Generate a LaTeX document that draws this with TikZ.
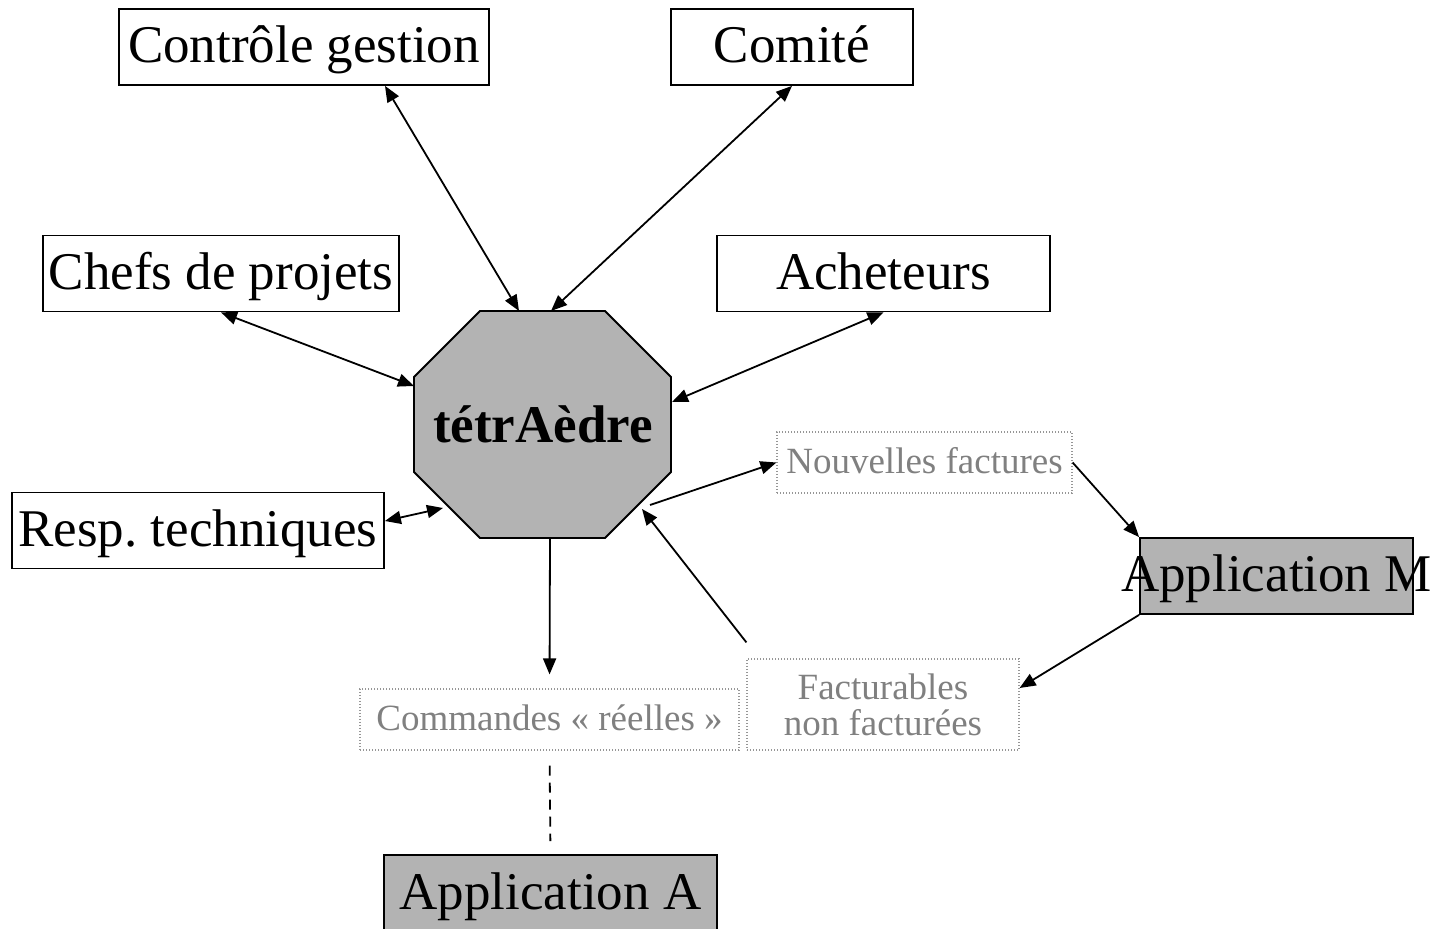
\documentclass[tikz,border=0pt]{standalone}
\usepackage{fontspec}
\setmainfont{Liberation Serif}
\usetikzlibrary{arrows.meta}

\definecolor{octgray}{RGB}{179,179,179}
\definecolor{textgray}{RGB}{128,128,128}
\definecolor{dotgray}{RGB}{150,150,150}

\begin{document}
\frenchspacing
\begin{tikzpicture}[x=0.5pt, y=-0.5pt]
    \tikzstyle{block} = [rectangle, draw, line width=0.9pt, inner sep=0pt,
    minimum height=38pt, text height=20pt, text depth=4pt, font=\fontsize{26.5}{30}\selectfont]
    \tikzstyle{app} = [block, fill=octgray]
    \tikzstyle{flow} = [rectangle, draw=dotgray, line width=0.6pt, dash pattern=on 0.6pt off 0.9pt,
    text=textgray, inner sep=0pt, minimum height=30.5pt, align=center,
    font=\fontsize{18.5}{18}\selectfont]
    \tikzstyle{oneline} = [text height=13.5pt, text depth=2.5pt]
    \tikzstyle{line} = [draw, line width=0.9pt, -{Triangle[length=8pt,width=6.5pt]}]
    \tikzstyle{biline} = [line, {Triangle[length=8pt,width=6.5pt]}-{Triangle[length=8pt,width=6.5pt]}]
    \useasboundingbox (0,0) rectangle (1440,929);
    % central octagon
    \draw[fill=octgray, line width=0.9pt] (480,311) -- (605,311) -- (671,377) -- (671,472)
        -- (605,538) -- (480,538) -- (414,472) -- (414,377) -- cycle;
    \node[font=\bfseries\fontsize{26.5}{30}\selectfont] (tetra) at (543,424) {tétrAèdre};
    \coordinate (t-cg) at (519,311);
    \coordinate (t-com) at (551,311);
    \coordinate (t-chef) at (414,386);
    \coordinate (t-ach) at (672,402);
    \coordinate (t-resp) at (443,508);
    \coordinate (t-nf) at (650,505);
    \coordinate (t-fa) at (642,509);
    \coordinate (t-cmd) at (550,538);
    % actors
    \node [block, minimum width=185pt] (cg) at (304,47) {Contrôle gestion};
    \node [block, minimum width=121pt] (comite) at (792,47) {Comité};
    \node [block, minimum width=178pt] (chefs) at (221,273.5) {Chefs de projets};
    \node [block, minimum width=166.5pt] (achet) at (883.5,273.5) {Acheteurs};
    \node [block, minimum width=186pt] (resp) at (198,530.5) {Resp. techniques};
    % applications
    \node [app, minimum width=136.5pt] (appm) at (1276.5,576) {\makebox[0pt]{Application M}};
    \node [app, minimum width=166.5pt] (appa) at (550.5,893) {Application A};
    % data flows
    \node [flow, oneline, minimum width=147.5pt] (nouv) at (924.5,462.5) {Nouvelles factures};
    \node [flow, minimum width=136pt, minimum height=45.5pt] (fact) at (883,704.5) {Facturables\\non facturées};
    \node [flow, oneline, minimum width=189.5pt] (cmd) at (549.5,719.5) {Commandes « réelles »};
    % connectors
    \path [biline] ([xshift=40.5pt]cg.south) -- (t-cg);
    \path [biline] (comite.south) -- (t-com);
    \path [biline] (chefs.south) -- (t-chef);
    \path [biline] (achet.south) -- (t-ach);
    \path [biline] ([yshift=4.75pt]resp.east) -- (t-resp);
    \path [line] (t-nf) -- (nouv.west);
    \path [line] (nouv.east) -- (appm.north west);
    \path [line] (appm.south west) -- ([yshift=8.25pt]fact.east);
    \path [line] ([yshift=8pt]fact.north west) -- (t-fa);
    \path [line, shorten >=7pt] (t-cmd) -- (cmd.north);
    \draw [line width=0.9pt, dash pattern=on 5pt off 3.5pt, shorten <=7.5pt, shorten >=6.5pt] (cmd.south) -- (appa.north);
\end{tikzpicture}
\end{document}
